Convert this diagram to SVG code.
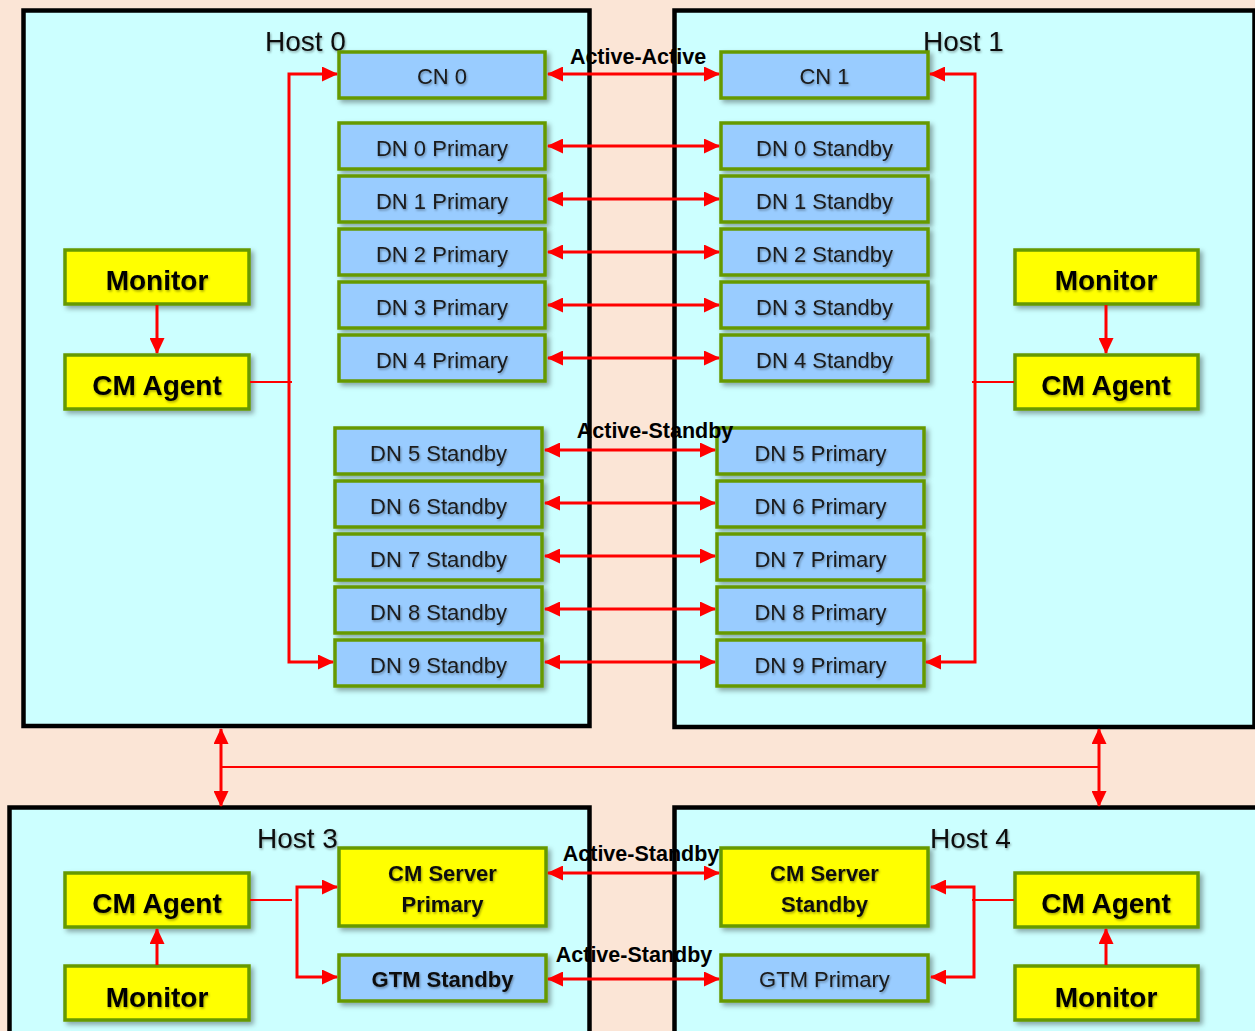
<svg xmlns="http://www.w3.org/2000/svg" width="1255" height="1031" viewBox="0 0 1255 1031">
<style>
.host{fill:#CCFFFF;stroke:#000;stroke-width:4.5}
.hl{font-family:"Liberation Sans",Arial,sans-serif;font-size:28px;fill:#111;filter:url(#ts)}
.blue{fill:#99CCFF;stroke:#669900;stroke-width:3.5;filter:url(#sh)}
.yel{fill:#FFFF00;stroke:#669900;stroke-width:3.5;filter:url(#sh)}
.t{font-family:"Liberation Sans",Arial,sans-serif;font-size:22px;fill:#1a1a1a;text-anchor:middle;filter:url(#ts)}
.tb{font-family:"Liberation Sans",Arial,sans-serif;font-size:22px;font-weight:bold;fill:#111;text-anchor:middle;filter:url(#ts)}
.big{font-family:"Liberation Sans",Arial,sans-serif;font-size:28px;font-weight:bold;fill:#000;text-anchor:middle;filter:url(#ts)}
.lab{font-family:"Liberation Sans",Arial,sans-serif;font-size:21.5px;font-weight:bold;fill:#000;text-anchor:middle}
.c{fill:none;stroke:#FF0000;stroke-width:3}
.ca{marker-start:url(#ah);marker-end:url(#ah)}
.ce{marker-end:url(#ah)}
.thin{fill:none;stroke:#FF0000;stroke-width:2}
</style>
<defs>
<filter id="sh" x="-10%" y="-20%" width="130%" height="150%"><feDropShadow dx="3" dy="3" stdDeviation="2.5" flood-color="#000" flood-opacity="0.35"/></filter>
<filter id="ts" x="-5%" y="-20%" width="115%" height="150%"><feDropShadow dx="1" dy="1.5" stdDeviation="1" flood-color="#000" flood-opacity="0.35"/></filter>
<marker id="ah" viewBox="0 0 16 15" refX="15" refY="7.5" markerWidth="16" markerHeight="15" markerUnits="userSpaceOnUse" orient="auto-start-reverse"><path d="M0,0 L16,7.5 L0,15 z" fill="#FF0000"/></marker>
</defs>
<rect x="0" y="0" width="1255" height="1031" fill="#FBE5D6"/>
<g id="host0"><rect class="host" x="23.5" y="10.5" width="566" height="715.5"/><text class="hl" x="265" y="51">Host 0</text></g>
<g id="host1"><rect class="host" x="674.5" y="10.5" width="580" height="716.5"/><text class="hl" x="923" y="51">Host 1</text></g>
<g id="host3"><rect class="host" x="9.5" y="807.5" width="580" height="230"/><text class="hl" x="257" y="848">Host 3</text></g>
<g id="host4"><rect class="host" x="674.5" y="807.5" width="590" height="230"/><text class="hl" x="930" y="848">Host 4</text></g>

<g id="cn0"><rect class="blue" x="339" y="52" width="206" height="46"/><text class="t" x="442" y="84">CN 0</text></g>
<g id="cn1"><rect class="blue" x="721" y="52" width="207" height="46"/><text class="t" x="824.5" y="84">CN 1</text></g>

<g id="dn0p"><rect class="blue" x="339" y="123" width="206" height="46"/><text class="t" x="442" y="156">DN 0 Primary</text></g>
<g id="dn1p"><rect class="blue" x="339" y="176" width="206" height="46"/><text class="t" x="442" y="209">DN 1 Primary</text></g>
<g id="dn2p"><rect class="blue" x="339" y="229" width="206" height="46"/><text class="t" x="442" y="262">DN 2 Primary</text></g>
<g id="dn3p"><rect class="blue" x="339" y="282" width="206" height="46"/><text class="t" x="442" y="315">DN 3 Primary</text></g>
<g id="dn4p"><rect class="blue" x="339" y="335" width="206" height="46"/><text class="t" x="442" y="368">DN 4 Primary</text></g>

<g id="dn0s"><rect class="blue" x="721" y="123" width="207" height="46"/><text class="t" x="824.5" y="156">DN 0 Standby</text></g>
<g id="dn1s"><rect class="blue" x="721" y="176" width="207" height="46"/><text class="t" x="824.5" y="209">DN 1 Standby</text></g>
<g id="dn2s"><rect class="blue" x="721" y="229" width="207" height="46"/><text class="t" x="824.5" y="262">DN 2 Standby</text></g>
<g id="dn3s"><rect class="blue" x="721" y="282" width="207" height="46"/><text class="t" x="824.5" y="315">DN 3 Standby</text></g>
<g id="dn4s"><rect class="blue" x="721" y="335" width="207" height="46"/><text class="t" x="824.5" y="368">DN 4 Standby</text></g>

<g id="dn5s"><rect class="blue" x="335" y="428" width="207" height="46"/><text class="t" x="438.5" y="461">DN 5 Standby</text></g>
<g id="dn6s"><rect class="blue" x="335" y="481" width="207" height="46"/><text class="t" x="438.5" y="514">DN 6 Standby</text></g>
<g id="dn7s"><rect class="blue" x="335" y="534" width="207" height="46"/><text class="t" x="438.5" y="567">DN 7 Standby</text></g>
<g id="dn8s"><rect class="blue" x="335" y="587" width="207" height="46"/><text class="t" x="438.5" y="620">DN 8 Standby</text></g>
<g id="dn9s"><rect class="blue" x="335" y="640" width="207" height="46"/><text class="t" x="438.5" y="673">DN 9 Standby</text></g>

<g id="dn5p"><rect class="blue" x="717" y="428" width="207" height="46"/><text class="t" x="820.5" y="461">DN 5 Primary</text></g>
<g id="dn6p"><rect class="blue" x="717" y="481" width="207" height="46"/><text class="t" x="820.5" y="514">DN 6 Primary</text></g>
<g id="dn7p"><rect class="blue" x="717" y="534" width="207" height="46"/><text class="t" x="820.5" y="567">DN 7 Primary</text></g>
<g id="dn8p"><rect class="blue" x="717" y="587" width="207" height="46"/><text class="t" x="820.5" y="620">DN 8 Primary</text></g>
<g id="dn9p"><rect class="blue" x="717" y="640" width="207" height="46"/><text class="t" x="820.5" y="673">DN 9 Primary</text></g>

<g id="mon0"><rect class="yel" x="65" y="250" width="184" height="54"/><text class="big" x="157" y="290">Monitor</text></g>
<g id="cma0"><rect class="yel" x="65" y="355" width="184" height="54"/><text class="big" x="157" y="395">CM Agent</text></g>
<g id="mon1"><rect class="yel" x="1015" y="250" width="183" height="54"/><text class="big" x="1106" y="290">Monitor</text></g>
<g id="cma1"><rect class="yel" x="1015" y="355" width="183" height="54"/><text class="big" x="1106" y="395">CM Agent</text></g>

<g id="cms3"><rect class="yel" x="339" y="848" width="207" height="78"/><text class="tb" x="442.5" y="881">CM Server</text><text class="tb" x="442.5" y="912">Primary</text></g>
<g id="gtm3"><rect class="blue" x="339" y="955" width="207" height="46"/><text class="tb" x="442.5" y="987">GTM Standby</text></g>
<g id="cma3"><rect class="yel" x="65" y="873" width="184" height="54"/><text class="big" x="157" y="913">CM Agent</text></g>
<g id="mon3"><rect class="yel" x="65" y="966" width="184" height="54"/><text class="big" x="157" y="1007">Monitor</text></g>

<g id="cms4"><rect class="yel" x="721" y="848" width="207" height="78"/><text class="tb" x="824.5" y="881">CM Server</text><text class="tb" x="824.5" y="912">Standby</text></g>
<g id="gtm4"><rect class="blue" x="721" y="955" width="207" height="46"/><text class="t" x="824.5" y="987">GTM Primary</text></g>
<g id="cma4"><rect class="yel" x="1015" y="873" width="183" height="54"/><text class="big" x="1106" y="913">CM Agent</text></g>
<g id="mon4"><rect class="yel" x="1015" y="966" width="183" height="54"/><text class="big" x="1106" y="1007">Monitor</text></g>

<g id="connectors">
<path class="c ca" d="M548,74 H719"/>
<path class="c ca" d="M548,146 H719"/>
<path class="c ca" d="M548,199 H719"/>
<path class="c ca" d="M548,252 H719"/>
<path class="c ca" d="M548,305 H719"/>
<path class="c ca" d="M548,358 H719"/>
<path class="c ca" d="M545,450 H715"/>
<path class="c ca" d="M545,503 H715"/>
<path class="c ca" d="M545,556 H715"/>
<path class="c ca" d="M545,609 H715"/>
<path class="c ca" d="M545,662 H715"/>
<path class="c ca" d="M548,873 H719"/>
<path class="c ca" d="M548,979 H719"/>
<path class="c ca" d="M337,74 H289 V662 H333"/>
<path class="c ca" d="M930,74 H975 V662 H926"/>
<path class="thin" d="M250,382 H292"/>
<path class="thin" d="M972,382 H1014"/>
<path class="c ce" d="M157,305 V353"/>
<path class="c ce" d="M1106,305 V353"/>
<path class="c ca" d="M221,729 V806"/>
<path class="c ca" d="M1099,729 V806"/>
<path class="thin" d="M221,767 H1099"/>
<path class="thin" d="M250,900 H292"/>
<path class="c ca" d="M337,887 H297 V977 H337"/>
<path class="thin" d="M1014,900 H972"/>
<path class="c ca" d="M931,887 H974 V977 H931"/>
<path class="c ce" d="M157,965 V929"/>
<path class="c ce" d="M1106,965 V929"/>
</g>
<text class="lab" x="638" y="64">Active-Active</text>
<text class="lab" x="655" y="438">Active-Standby</text>
<text class="lab" x="641" y="861">Active-Standby</text>
<text class="lab" x="634" y="962">Active-Standby</text>
</svg>
